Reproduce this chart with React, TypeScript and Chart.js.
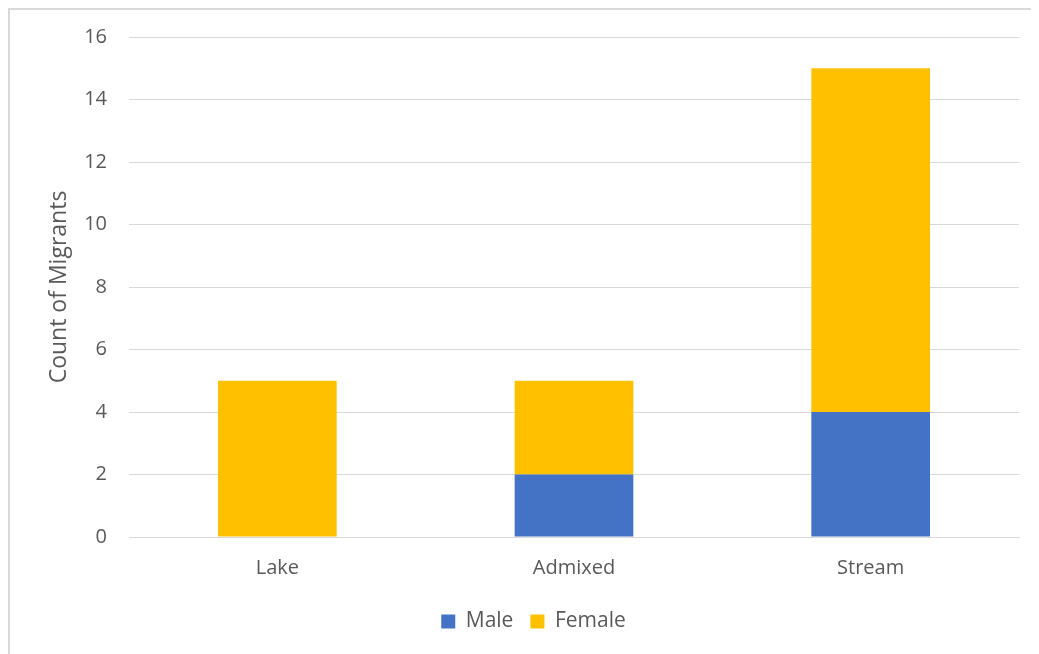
import React, { useEffect, useRef } from "react";
import { Chart, registerables } from "chart.js";

Chart.register(...registerables);

const categories = ["Lake", "Admixed", "Stream"];
const maleCounts = [0, 2, 4];
const femaleCounts = [5, 3, 11];
const yTitle = "Count of Migrants";

const FONT = "'Open Sans', 'Liberation Sans', sans-serif";
const TEXT = "#595959";
const GRID = "#d9d9d9";

export default function App() {
  const ref = useRef<HTMLCanvasElement | null>(null);

  useEffect(() => {
    document.body.style.overflow = "hidden";
    const ctx = ref.current!;
    const chart = new Chart(ctx, {
      type: "bar",
      data: {
        labels: categories,
        datasets: [
          { label: "Male", data: maleCounts, backgroundColor: "#4472C4", barPercentage: 0.4, categoryPercentage: 1 },
          { label: "Female", data: femaleCounts, backgroundColor: "#FFC000", barPercentage: 0.4, categoryPercentage: 1 },
        ],
      },
      options: {
        animation: false,
        responsive: false,
        maintainAspectRatio: false,
        layout: { padding: { top: 27, right: 20, bottom: 12, left: 38 } },
        plugins: {
          tooltip: { enabled: false },
          legend: {
            position: "bottom",
            labels: {
              boxWidth: 14,
              boxHeight: 14,
              padding: 17,
              color: TEXT,
              font: { family: FONT, size: 21 },
            },
          },
        },
        scales: {
          x: {
            stacked: true,
            grid: { display: false, drawTicks: false },
            border: { display: true, color: GRID, width: 1 },
            ticks: { color: TEXT, font: { family: FONT, size: 20 }, padding: 19 },
            afterFit: (s: any) => { s.height = 57; s.paddingLeft = 0; s.paddingRight = 0; },
          },
          y: {
            stacked: true,
            min: 0,
            max: 16,
            ticks: { stepSize: 2, color: TEXT, font: { family: FONT, size: 20 }, padding: 22 },
            grid: { color: GRID, lineWidth: 1, drawTicks: false },
            border: { display: false },
            title: {
              display: true,
              text: yTitle,
              color: TEXT,
              font: { family: FONT, size: 23 },
              padding: { top: -2, bottom: 0 },
            },
            afterFit: (s: any) => { s.width = 81; s.paddingTop = 0; s.paddingBottom = 0; },
          },
        },
      },
    });
    return () => chart.destroy();
  }, []);

  return (
    <div
      style={{
        width: 1029,
        height: 644,
        borderTop: "2px solid #d9d9d9",
        borderLeft: "2px solid #d9d9d9",
        background: "#fff",
      }}
    >
      <canvas ref={ref} width={1029} height={644} style={{ display: "block" }} />
    </div>
  );
}
